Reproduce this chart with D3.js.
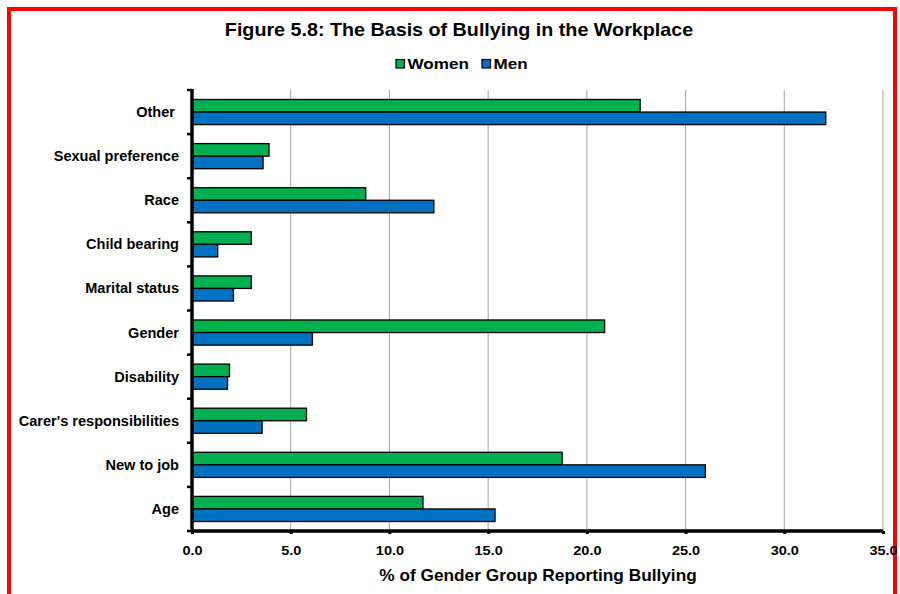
<!DOCTYPE html>
<html><head><meta charset="utf-8">
<script src="https://cdn.jsdelivr.net/npm/d3@7"></script>
<style>
html,body{margin:0;padding:0;background:#fff;}
svg{display:block;font-family:Arial,"Liberation Sans",Helvetica,sans-serif;}
</style></head>
<body><svg id="chart" width="900" height="594"></svg>
<script>
const categories = ["Other ", "Sexual preference", "Race", "Child bearing", "Marital status", "Gender", "Disability", "Carer's responsibilities", "New to job", "Age"];
const women = [22.7, 3.9, 8.8, 3.0, 3.0, 20.9, 1.9, 5.8, 18.75, 11.7];
const men = [32.1, 3.6, 12.25, 1.3, 2.1, 6.1, 1.8, 3.55, 26.0, 15.35];
const seriesNames = ["Women", "Men"];
const seriesColors = ["#00B050", "#0070C0"];
const xTicks = [0, 5, 10, 15, 20, 25, 30, 35];
const title = "Figure 5.8: The Basis of Bullying in the Workplace";
const xTitle = "% of Gender Group Reporting Bullying";

const svg = d3.select("#chart");
// red frame
svg.append("rect").attr("x", 9).attr("y", 9).attr("width", 886).attr("height", 620)
  .attr("fill", "none").attr("stroke", "#FF0000").attr("stroke-width", 4);

const m = {left: 192, right: 883, top: 90, bottom: 531};
const x = d3.scaleLinear().domain([0, 35]).range([m.left, m.right]);
const y = d3.scaleBand().domain(categories).range([m.top, m.bottom]).paddingInner(0.43).paddingOuter(0.215);
const ySub = d3.scaleBand().domain(seriesNames).range([0, y.bandwidth()]);

function sText(sel, px, py, sx) {
  return sel.attr("transform", `translate(${px},${py}) scale(${sx},1)`);
}

// gridlines
svg.append("g").selectAll("line").data(xTicks.filter(d => d > 0)).join("line")
  .attr("x1", d => x(d)).attr("x2", d => x(d)).attr("y1", m.top).attr("y2", m.bottom)
  .attr("stroke", "#a6a6a6").attr("stroke-width", 1);

// bars
const data = categories.map((c, i) => ({c, vals: [women[i], men[i]]}));
const g = svg.append("g");
data.forEach(d => {
  d.vals.forEach((v, j) => {
    g.append("rect")
      .attr("x", x(0)).attr("y", y(d.c) + ySub(seriesNames[j]))
      .attr("width", x(v) - x(0)).attr("height", ySub.bandwidth())
      .attr("fill", seriesColors[j]).attr("stroke", "#000").attr("stroke-width", 1.3);
  });
});

// x axis
const xAxis = d3.axisBottom(x).tickValues(xTicks).tickFormat(d3.format(".1f")).tickSize(3).tickPadding(8);
const gx = svg.append("g").attr("transform", `translate(0,${m.bottom})`).call(xAxis);
gx.select(".domain").attr("stroke", "#000").attr("stroke-width", 3.5).attr("d", `M${m.left},0H${m.right}`);
gx.selectAll(".tick line").attr("stroke", "#000").attr("stroke-width", 3);
gx.selectAll("text").attr("font-size", 13.2).attr("font-weight", "bold").attr("fill", "#000")
  .attr("font-family", "Arial, Liberation Sans, sans-serif")
  .attr("y", 0).attr("dy", null)
  .attr("transform", "translate(0,23.5) scale(1.1,1)");

// y axis
const boundaries = d3.range(categories.length + 1).map(i => m.top + i * (m.bottom - m.top) / categories.length);
svg.append("g").selectAll("line").data(boundaries).join("line")
  .attr("x1", m.left - 5).attr("x2", m.left).attr("y1", d => d).attr("y2", d => d)
  .attr("stroke", "#000").attr("stroke-width", 2.5);
svg.append("line").attr("x1", m.left).attr("x2", m.left).attr("y1", m.top - 1).attr("y2", m.bottom + 1.5)
  .attr("stroke", "#000").attr("stroke-width", 3.5);
svg.append("g").selectAll("text").data(categories).join("text")
  .attr("transform", d => `translate(179,${y(d) + y.bandwidth() / 2 + 5}) scale(1.04,1)`)
  .attr("text-anchor", "end")
  .attr("font-size", 14).attr("font-weight", "bold").attr("fill", "#000")
  .style("white-space", "pre").text(d => d);

// title
sText(svg.append("text"), 459, 35.7, 1.06).attr("text-anchor", "middle")
  .attr("font-size", 18.6).attr("font-weight", "bold").attr("fill", "#000").text(title);
// x title
sText(svg.append("text"), 538, 581, 1.08).attr("text-anchor", "middle")
  .attr("font-size", 16).attr("font-weight", "bold").attr("fill", "#000").text(xTitle);

// legend
const leg = svg.append("g");
const legX = [396, 482];
seriesNames.forEach((s, i) => {
  leg.append("rect").attr("x", legX[i]).attr("y", 59.5).attr("width", 8.5).attr("height", 8.5)
    .attr("fill", seriesColors[i]).attr("stroke", "#000").attr("stroke-width", 1.2);
  sText(leg.append("text"), legX[i] + 11.5, 69, 1.14)
    .attr("font-size", 15).attr("font-weight", "bold").attr("fill", "#000").text(s);
});
</script></body></html>
